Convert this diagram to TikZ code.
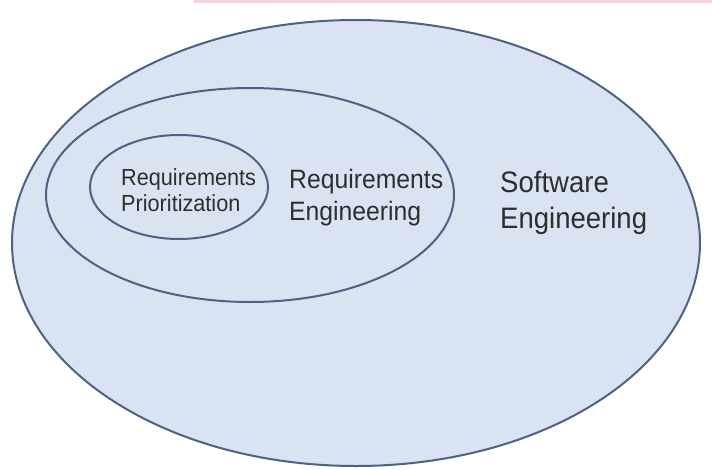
\documentclass[tikz,border=0pt]{standalone}
\usepackage{fontspec}
\setmainfont{Liberation Sans}
\newfontfamily\labelfont[FakeStretch=0.93]{Liberation Sans}
\usetikzlibrary{calc}

\definecolor{setfill}{HTML}{DAE3F2}
\definecolor{setline}{HTML}{4E6284}
\definecolor{labeltext}{HTML}{2E2E2E}
\definecolor{topbar}{HTML}{F9D3D6}

\tikzset{
    setring/.style={draw=setline, fill=setfill, line width=#1},
    setlabel/.style={anchor=base west, align=left, text=labeltext, inner sep=0pt}
}

\begin{document}
\begin{tikzpicture}[x=1pt, y=-1pt]
        \useasboundingbox (0,0) rectangle (712,469);
        \fill[topbar] (194,0) rectangle (712,3);

        \coordinate (SE) at (356,243);
        \coordinate (RE) at (250,195);
        \coordinate (RP) at (179,187);

        \draw[setring=2pt] (SE) ellipse [x radius=344pt, y radius=223pt];
        \draw[setring=2pt] (RE) ellipse [x radius=204pt, y radius=107pt];
        \draw[setring=2pt] (RP) ellipse [x radius=89pt, y radius=52pt];

        % base anchor sits on the last line
        \node[setlabel, font=\labelfont\fontsize{23.3}{26}\selectfont] (rplabel) at (121,211) {Requirements\\Prioritization};
        \node[setlabel, font=\labelfont\fontsize{26.6}{32}\selectfont] (relabel) at (289,220) {Requirements\\Engineering};
        \node[setlabel, font=\labelfont\fontsize{29.6}{36}\selectfont] (selabel) at (500,228) {Software\\Engineering};
    \end{tikzpicture}
\end{document}
